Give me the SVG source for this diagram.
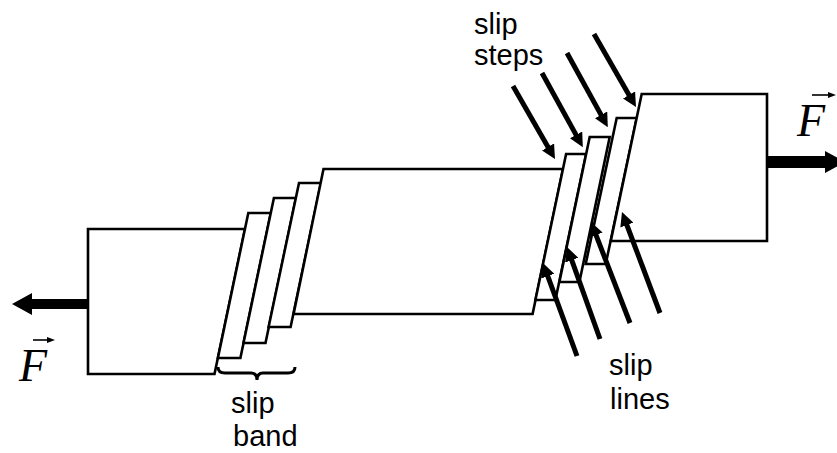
<svg xmlns="http://www.w3.org/2000/svg" width="837" height="453" viewBox="0 0 837 453">
  <style>
    .blk { fill: #fff; stroke: #000; stroke-width: 2.6; stroke-linejoin: miter; }
    .lbl { font-family: "Liberation Sans", Arial, sans-serif; font-size: 29px; fill: #000; }
    .force { font-family: "Liberation Serif", "Times New Roman", serif; font-style: italic; font-size: 46px; fill: #000; }
    .ptr { stroke: #000; stroke-width: 5; fill: none; marker-end: url(#head); }
    .vec { stroke: #000; stroke-width: 1.6; fill: none; marker-end: url(#vhead); }
  </style>
  <defs>
    <marker id="head" markerUnits="userSpaceOnUse" viewBox="0 0 14 14" markerWidth="14" markerHeight="14" refX="4" refY="7" orient="auto">
      <path d="M0,0 L14,7 L0,14 z" fill="#000"/>
    </marker>
    <marker id="vhead" markerUnits="userSpaceOnUse" viewBox="0 0 8 6" markerWidth="8" markerHeight="6" refX="2" refY="3" orient="auto">
      <path d="M0,0 L8,3 L0,6 z" fill="#000"/>
    </marker>
  </defs>

  <!-- slip planes: x = base + 0.21*(374 - y) -->
  <g id="left-block"><polygon class="blk" points="88,229 245,229 214.5,374 88,374"/></g>
  <g id="band-slab-1"><polygon class="blk" points="248.3,213 270.8,213 240.4,358 217.9,358"/></g>
  <g id="band-slab-2"><polygon class="blk" points="273.9,198 295.9,198 265.5,343 243.5,343"/></g>
  <g id="band-slab-3"><polygon class="blk" points="299,183 321,183 290.6,327 268.6,327"/></g>
  <g id="middle-block"><polygon class="blk" points="323.5,169 563,169 532.6,314 293.6,314"/></g>
  <g id="step-slab-1"><polygon class="blk" points="566.1,154 586.1,154 555.4,300 535.4,300"/></g>
  <g id="step-slab-2"><polygon class="blk" points="589.7,137 609.7,137 579.4,282 559.4,282"/></g>
  <g id="step-slab-3"><polygon class="blk" points="616.7,118 636.7,118 605.7,264 585.7,264"/></g>
  <g id="right-block"><polygon class="blk" points="641.7,94 767,94 767,241 610.8,241"/></g>

  <g id="connectors">
    <!-- applied forces -->
    <path d="M88,299 H32 V293 L12,304 L32,315 V309 H88 z" fill="#000"/>
    <path d="M768,156 H825 V151 L845,162 L825,173 V168 H768 z" fill="#000"/>
    <!-- pointers to slip steps -->
    <line class="ptr" x1="513" y1="86" x2="550" y2="150.4"/>
    <line class="ptr" x1="542" y1="73" x2="578" y2="138.4"/>
    <line class="ptr" x1="567" y1="53" x2="603" y2="118.4"/>
    <line class="ptr" x1="594" y1="34" x2="631" y2="98.4"/>
    <!-- pointers to slip lines -->
    <line class="ptr" x1="577" y1="356" x2="546.4" y2="272.4"/>
    <line class="ptr" x1="600" y1="339" x2="570.4" y2="256.4"/>
    <line class="ptr" x1="630" y1="323" x2="594.6" y2="231.4"/>
    <line class="ptr" x1="660" y1="313" x2="625.5" y2="221.4"/>
  </g>

  <g id="brace">
    <path d="M218,367 Q218,373 225,373 H251 Q257,373 257,380 Q257,373 263,373 H288 Q295,373 295,367" fill="none" stroke="#000" stroke-width="3"/>
  </g>

  <g id="label-force-left">
    <text class="force" x="19" y="381">F</text>
    <line class="vec" x1="33" y1="340" x2="49" y2="340"/>
  </g>
  <g id="label-force-right">
    <text class="force" x="797" y="136">F</text>
    <line class="vec" x1="812" y1="95" x2="830" y2="95"/>
  </g>
  <g id="label-slip-steps">
    <text class="lbl" x="474" y="34">slip</text>
    <text class="lbl" x="474" y="65">steps</text>
  </g>
  <g id="label-slip-lines">
    <text class="lbl" x="609" y="375">slip</text>
    <text class="lbl" x="610" y="409">lines</text>
  </g>
  <g id="label-slip-band">
    <text class="lbl" x="231" y="413">slip</text>
    <text class="lbl" x="233" y="446">band</text>
  </g>
</svg>
